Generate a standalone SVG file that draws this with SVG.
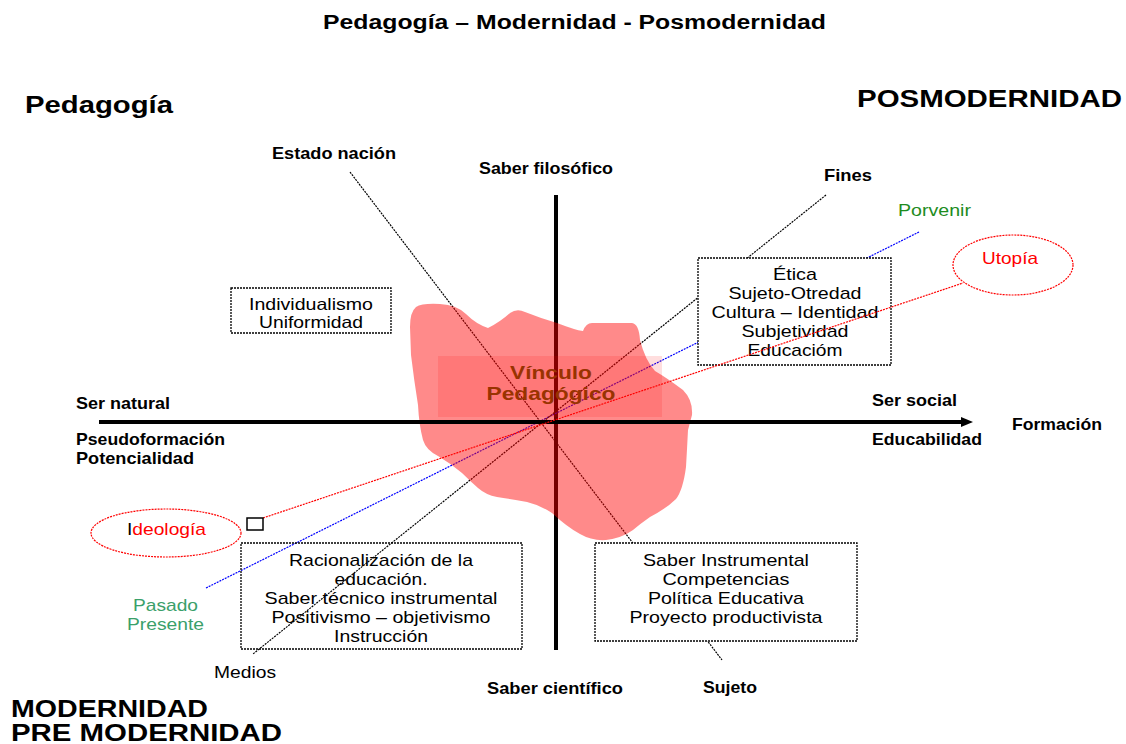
<svg xmlns="http://www.w3.org/2000/svg" width="1126" height="744" viewBox="0 0 1126 744">
<defs>
<style>
text{font-family:"Liberation Sans",Arial,sans-serif;fill:#000}
.b{font-weight:bold}
.big{font-weight:bold;font-size:23px}
.lab{font-weight:bold;font-size:16.5px}
.box{font-size:17px}
.c{text-anchor:middle}
.dot{fill:none;stroke:#000;stroke-width:1.2;stroke-dasharray:2 1}
.boxr{fill:#fff;stroke:#000;stroke-width:1.3;stroke-dasharray:2 1}
.boxn{fill:none;stroke:#000;stroke-width:1.3;stroke-dasharray:2 1}
.ell{fill:#fff;stroke:#f00;stroke-width:1.2;stroke-dasharray:2 1}
</style>
<marker id="arr" viewBox="0 0 12 10" refX="1" refY="5" markerWidth="3" markerHeight="2.5" orient="auto" markerUnits="strokeWidth">
<path d="M0,0 L12,5 L0,10 z" fill="#000"/>
</marker>
</defs>
<rect width="1126" height="744" fill="#fff"/>

<g id="axis-vertical"><line x1="556" y1="195" x2="556" y2="650" stroke="#000" stroke-width="4"/></g>

<g id="connectors">
<line id="line-porvenir" x1="206" y1="588" x2="919" y2="232" stroke="#00f" stroke-width="1.2" stroke-dasharray="2 1"/>
<line id="line-fines-medios" class="dot" x1="826" y1="195" x2="253" y2="654"/>
<line id="line-estado-sujeto" class="dot" x1="350" y1="172" x2="722" y2="660"/>
</g>

<g id="vinculo">
<path d="M410,327 Q410,312 416,307 Q422,303 440,304 Q457,305 466,314 Q476,324 488,328 Q500,322 510,313 Q517,308 525,312 Q540,318 557,323 Q575,330 583,331 Q586,323 592,323 L632,323 Q639,324 640,340 Q645,360 655,371 Q667,378 683,390 Q693,400 692,415 L688,430 Q687,450 686,467 Q683,490 676,499 Q667,508 650,517 Q640,524 633,530 Q622,538 606,540 Q592,541 580,534 Q567,527 552,513 Q540,505 527,502 Q510,499 497,497 Q486,495 478,488 Q470,481 462,473 Q450,463 438,456 Q426,450 423,440 Q419,425 418,405 Q414,380 411,355 Z" fill="#f00" fill-opacity="0.46" stroke="none"/>
<rect x="438" y="356" width="224" height="61" fill="#f00" fill-opacity="0.13"/>
<text class="b c" x="551" y="379" font-size="19" textLength="82" lengthAdjust="spacingAndGlyphs" style="fill:#993300">Vínculo</text>
<text class="b c" x="551" y="400" font-size="19" textLength="129" lengthAdjust="spacingAndGlyphs" style="fill:#993300">Pedagógico</text>
</g>

<g id="axis-horizontal"><line x1="99" y1="422" x2="962" y2="422" stroke="#000" stroke-width="4" marker-end="url(#arr)"/></g>

<g id="box-etica">
<rect class="boxr" x="698" y="258" width="193" height="107"/>
<text class="box c" x="795" y="280" textLength="44" lengthAdjust="spacingAndGlyphs">Ética</text>
<text class="box c" x="795" y="299" textLength="133" lengthAdjust="spacingAndGlyphs">Sujeto-Otredad</text>
<text class="box c" x="795" y="318" textLength="167" lengthAdjust="spacingAndGlyphs">Cultura – Identidad</text>
<text class="box c" x="795" y="337" textLength="107" lengthAdjust="spacingAndGlyphs">Subjetividad</text>
<text class="box c" x="795" y="356" textLength="95" lengthAdjust="spacingAndGlyphs">Educacióm</text>
</g>

<g id="connectors-over">
<line id="line-utopia-ideologia" x1="263" y1="518" x2="963" y2="283" stroke="#f00" stroke-width="1.2" stroke-dasharray="2 1"/>
</g>

<g id="box-saber-instrumental">
<rect class="boxr" x="595" y="543" width="262" height="98"/>
<text class="box c" x="726" y="566" textLength="166" lengthAdjust="spacingAndGlyphs">Saber Instrumental</text>
<text class="box c" x="726" y="585" textLength="127" lengthAdjust="spacingAndGlyphs">Competencias</text>
<text class="box c" x="726" y="604" textLength="156" lengthAdjust="spacingAndGlyphs">Política Educativa</text>
<text class="box c" x="726" y="623" textLength="193" lengthAdjust="spacingAndGlyphs">Proyecto productivista</text>
</g>

<g id="box-racionalizacion">
<rect class="boxn" x="241" y="543" width="281" height="106"/>
<text class="box c" x="381" y="566" textLength="184" lengthAdjust="spacingAndGlyphs">Racionalización de la</text>
<text class="box c" x="381" y="585" textLength="93" lengthAdjust="spacingAndGlyphs">educación.</text>
<text class="box c" x="381" y="604" textLength="233" lengthAdjust="spacingAndGlyphs">Saber técnico instrumental</text>
<text class="box c" x="381" y="623" textLength="219" lengthAdjust="spacingAndGlyphs">Positivismo – objetivismo</text>
<text class="box c" x="381" y="642" textLength="94" lengthAdjust="spacingAndGlyphs">Instrucción</text>
</g>

<g id="box-individualismo">
<rect class="boxn" x="231" y="288" width="160" height="45"/>
<text class="c" x="311" y="310" font-size="16.5" textLength="124" lengthAdjust="spacingAndGlyphs">Individualismo</text>
<text class="c" x="311" y="328" font-size="16.5" textLength="104" lengthAdjust="spacingAndGlyphs">Uniformidad</text>
</g>

<g id="utopia">
<ellipse class="ell" cx="1013" cy="265" rx="60" ry="30"/>
<text x="982" y="264" font-size="16.5" textLength="56" lengthAdjust="spacingAndGlyphs" style="fill:#f00">Utopía</text>
</g>

<g id="ideologia">
<ellipse class="ell" cx="166" cy="533" rx="75" ry="24"/>
<text x="127" y="535" font-size="17" textLength="79" lengthAdjust="spacingAndGlyphs">I<tspan style="fill:#f00">deología</tspan></text>
</g>

<g id="square"><rect x="247" y="518" width="16" height="12" fill="#fff" stroke="#000" stroke-width="1.5"/></g>

<g id="labels">
<text class="b" x="323" y="29" font-size="19.5" textLength="503" lengthAdjust="spacingAndGlyphs">Pedagogía – Modernidad - Posmodernidad</text>
<text class="big" x="25" y="113" textLength="148" lengthAdjust="spacingAndGlyphs">Pedagogía</text>
<text class="big" x="857" y="107" textLength="265" lengthAdjust="spacingAndGlyphs">POSMODERNIDAD</text>
<text class="big" x="11" y="717" textLength="197" lengthAdjust="spacingAndGlyphs">MODERNIDAD</text>
<text class="big" x="11" y="741" textLength="271" lengthAdjust="spacingAndGlyphs">PRE MODERNIDAD</text>
<text class="lab" x="272" y="159" textLength="124" lengthAdjust="spacingAndGlyphs">Estado nación</text>
<text class="lab" x="479" y="174" textLength="134" lengthAdjust="spacingAndGlyphs">Saber filosófico</text>
<text class="lab" x="824" y="181" textLength="48" lengthAdjust="spacingAndGlyphs">Fines</text>
<text x="898" y="216" font-size="16.5" textLength="73" lengthAdjust="spacingAndGlyphs" style="fill:#1e8c1e">Porvenir</text>
<text class="lab" x="76" y="409" textLength="94" lengthAdjust="spacingAndGlyphs">Ser natural</text>
<text class="lab" x="76" y="445" textLength="149" lengthAdjust="spacingAndGlyphs">Pseudoformación</text>
<text class="lab" x="76" y="464" textLength="118" lengthAdjust="spacingAndGlyphs">Potencialidad</text>
<text class="lab" x="872" y="406" textLength="85" lengthAdjust="spacingAndGlyphs">Ser social</text>
<text class="lab" x="872" y="445" textLength="110" lengthAdjust="spacingAndGlyphs">Educabilidad</text>
<text class="lab" x="1012" y="430" textLength="90" lengthAdjust="spacingAndGlyphs">Formación</text>
<text x="133" y="611" font-size="17" textLength="65" lengthAdjust="spacingAndGlyphs" style="fill:#3aa06a">Pasado</text>
<text x="127" y="630" font-size="17" textLength="77" lengthAdjust="spacingAndGlyphs" style="fill:#3aa06a">Presente</text>
<text x="214" y="678" font-size="16" textLength="62" lengthAdjust="spacingAndGlyphs">Medios</text>
<text class="lab" x="487" y="694" textLength="136" lengthAdjust="spacingAndGlyphs">Saber científico</text>
<text class="lab" x="703" y="693" textLength="54" lengthAdjust="spacingAndGlyphs">Sujeto</text>
</g>
</svg>
